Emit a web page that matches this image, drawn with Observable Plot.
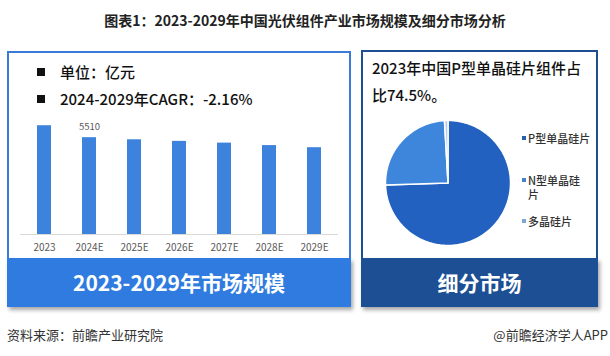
<!DOCTYPE html>
<html><head><meta charset="utf-8">
<script src="https://cdn.jsdelivr.net/npm/d3@7"></script>
<script src="https://cdn.jsdelivr.net/npm/@observablehq/plot@0.6"></script>
<style>
body{margin:0;background:#fff;font-family:"Noto Sans CJK SC","Noto Sans",sans-serif;}
#root{position:relative;width:610px;height:356px;overflow:hidden;background:#fff;}
.abs{position:absolute;white-space:nowrap;}
.line{font-size:15px;line-height:20px;color:#111;font-weight:500;}
.sq{position:absolute;width:8px;height:8px;background:#111;}
.banner{color:#fff;font-weight:bold;font-size:21px;line-height:49px;text-align:center;box-shadow:2px 3px 4px rgba(0,0,0,0.35);}
.leg{font-size:11px;line-height:14px;color:#333;font-weight:500;}
.mk{position:absolute;width:4px;height:4px;}
</style></head><body>
<div id="root">
  <div class="abs" style="left:0;top:9px;width:610px;text-align:center;font-size:14px;line-height:22px;font-weight:bold;color:#222;">图表1：2023-2029年中国光伏组件产业市场规模及细分市场分析</div>

  <div class="abs" style="left:7px;top:51px;width:340px;height:252px;border:2px solid #3a7bd8;"></div>
  <div class="abs" style="left:361px;top:50px;width:233px;height:253px;border:2px solid #1f4e92;"></div>

  <div class="sq" style="left:37px;top:68px;"></div>
  <div class="abs line" style="left:60px;top:62px;">单位：亿元</div>
  <div class="sq" style="left:37px;top:95px;"></div>
  <div class="abs line" style="left:60px;top:89px;">2024-2029年CAGR：-2.16%</div>

  <div class="abs line" style="left:372px;top:58px;">2023年中国P型单晶硅片组件占</div>
  <div class="abs line" style="left:372px;top:85px;">比74.5%。</div>

  <div id="bars" class="abs" style="left:7px;top:110px;"></div>
  <div id="pie" class="abs" style="left:380px;top:115px;"></div>
  <div id="legend"></div>

  <div class="abs banner" style="left:7px;top:258px;width:344px;height:49px;background:#2f7be0;">2023-2029年市场规模</div>
  <div class="abs banner" style="left:361px;top:258px;width:237px;height:49px;background:#1d4f95;">细分市场</div>

  <div class="abs" style="left:7px;top:325px;font-size:13px;line-height:20px;color:#333;">资料来源：前瞻产业研究院</div>
  <div class="abs" style="right:2px;top:325px;font-size:13px;line-height:20px;color:#333;">@前瞻经济学人APP</div>
</div>
<script>
// ---- data ----
const years = ["2023", "2024E", "2025E", "2026E", "2027E", "2028E", "2029E"];
const marketSize = [6190, 5510, 5390, 5300, 5200, 5060, 4940];
const valueLabels = ["", "5510", "", "", "", "", ""];
const segments = ["P型单晶硅片", "N型单晶硅片", "多晶硅片"];
const legendLabels = ["P型单晶硅片", "N型单晶硅\n片", "多晶硅片"];
const shares = [74.5, 24.6, 0.9];
const segColors = ["#2261bf", "#3e85dc", "#b4cbea"];
const legendColors = ["#2a5fae", "#4a80c8", "#7fa5d4"];

const font = '"Noto Sans CJK SC","Noto Sans",sans-serif';

// ---- bar chart ----
const barData = years.map((y, i) => ({year: y, value: marketSize[i], label: valueLabels[i]}));
const bars = Plot.plot({
  width: 344, height: 148,
  marginLeft: 13, marginRight: 13, marginTop: 1, marginBottom: 24,
  x: {domain: years, paddingInner: 0.69, paddingOuter: 0.345, label: null, tickSize: 0, tickPadding: 9},
  y: {domain: [0, 7000], axis: null},
  style: {fontFamily: font, fontSize: "10px", color: "#595959", background: "transparent", overflow: "visible"},
  marks: [
    Plot.ruleY([0], {stroke: "#d9d9d9"}),
    Plot.barY(barData, {x: "year", y: "value", fill: "#3d82dd"}),
    Plot.text(barData.filter(d => d.label), {x: "year", y: "value", text: "label", dy: -11, fill: "#595959", fontSize: 9.5})
  ]
});
document.getElementById("bars").appendChild(bars);

// ---- pie chart ----
const pieData = segments.map((s, i) => ({seg: s, share: shares[i]}));
const arcs = d3.pie().sort(null).value(d => d.share)(pieData);
const pts = arcs.map(a => {
  const n = Math.max(3, Math.ceil((a.endAngle - a.startAngle) / 0.02));
  const p = [{seg: a.data.seg, x: 0, y: 0}];
  for (let i = 0; i <= n; i++) {
    const t = a.startAngle + (a.endAngle - a.startAngle) * i / n;
    p.push({seg: a.data.seg, x: Math.sin(t), y: Math.cos(t)});
  }
  return p;
});
const pie = Plot.plot({
  width: 135, height: 135, margin: 5,
  x: {domain: [-1, 1], axis: null},
  y: {domain: [-1, 1], axis: null},
  style: {background: "transparent", overflow: "visible"},
  marks: pts.map((p, i) => Plot.line(p, {x: "x", y: "y", fill: segColors[i], stroke: "white", strokeWidth: 1.5, curve: "linear-closed"}))
});
document.getElementById("pie").appendChild(pie);

// ---- legend ----
const legTops = [131, 173, 214];
const leg = document.getElementById("legend");
legendLabels.forEach((t, i) => {
  const m = document.createElement("div");
  m.className = "mk";
  m.style.left = "522px"; m.style.top = (legTops[i] + 5) + "px"; m.style.background = legendColors[i];
  leg.appendChild(m);
  const d = document.createElement("div");
  d.className = "abs leg";
  d.style.left = "528px"; d.style.top = legTops[i] + "px";
  d.style.whiteSpace = "pre";
  d.textContent = t;
  leg.appendChild(d);
});
</script>
</body></html>
